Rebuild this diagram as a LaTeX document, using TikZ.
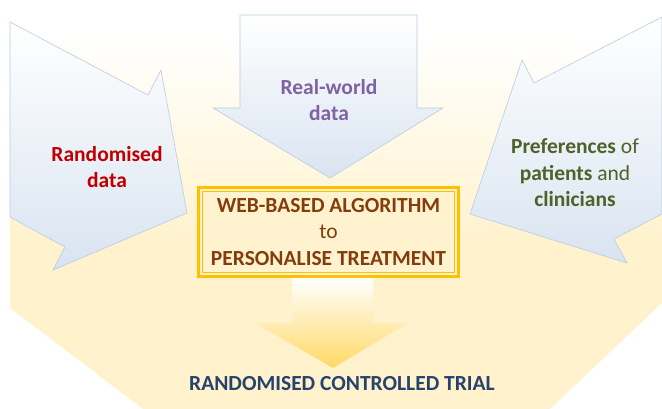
\documentclass[tikz,border=0pt]{standalone}
\usepackage{fontspec}
\setmainfont{Carlito}
\usetikzlibrary{calc}
\definecolor{bgyellow}{HTML}{FFF2CC}
\definecolor{boxfill}{HTML}{FFF3CF}
\definecolor{arrowblue}{HTML}{D9E4F1}
\definecolor{arrowedge}{HTML}{B8CCE4}
\definecolor{gold}{HTML}{FFC000}
\definecolor{goldarrow}{HTML}{FFD966}
\definecolor{algobrown}{HTML}{843C0C}
\definecolor{randred}{HTML}{C00000}
\definecolor{realpurple}{HTML}{7F62A1}
\definecolor{prefgreen}{HTML}{4F6228}
\definecolor{rctnavy}{HTML}{25436E}
\pgfdeclareverticalshading{bgfade}{100bp}{color(0bp)=(bgyellow); color(45bp)=(bgyellow); color(71bp)=(white); color(100bp)=(white)}
\tikzset{
  inarrow/.style={top color=white, bottom color=arrowblue, draw=arrowedge, line width=0.6pt},
  label/.style={font=\fontsize{21.5}{26.5}\selectfont\bfseries, align=center}
}
\begin{document}
\begin{tikzpicture}[x=1pt,y=-1pt]
  \useasboundingbox (0,0) rectangle (662,409);
  \path[shading=bgfade] (10,0) -- (662,0) -- (662,303) -- (550,409) -- (143,409) -- (10,308) -- cycle;
  \path[inarrow] (10,22) -- (148,95) -- (161,70) -- (187,213) -- (53,270) -- (65,247) -- (10,217) -- cycle;
  \path[inarrow] (662,17) -- (534,83) -- (522,60) -- (470,214) -- (627,263) -- (614,239) -- (662,214) -- cycle;
  \path[inarrow] (240,15) -- (417,15) -- (417,108) -- (443,108) -- (330,178) -- (213,108) -- (240,108) -- cycle;
  \path[top color=white, bottom color=goldarrow] (292,278) -- (373,278) -- (373,323) -- (408,323)
    -- (333,368) -- (255,323) -- (292,323) -- cycle;
  \node[label, text=randred] (rand) at (107,167) {Randomised\\data};
  \node[label, text=realpurple] (real) at (329,100) {Real-world\\data};
  \node[label, text=prefgreen, font=\fontsize{21.5}{26.5}\selectfont] (pref) at (575,173)
    {\textbf{Preferences} of\\\textbf{patients} and\\\textbf{clinicians}};
  \node[label, text=algobrown, draw=gold, fill=boxfill, line width=3pt, outer sep=0pt,
    minimum width=260, minimum height=89, inner sep=0pt] (algo) at (328.5,232)
    {WEB-BASED ALGORITHM\\\mdseries to\\PERSONALISE TREATMENT};
  \draw[gold, line width=0.8pt] ($(algo.north west)+(4,4)$) rectangle ($(algo.south east)+(-4,-4)$);
  \node[label, text=rctnavy] (rct) at (342,384) {RANDOMISED CONTROLLED TRIAL};
\end{tikzpicture}
\end{document}
